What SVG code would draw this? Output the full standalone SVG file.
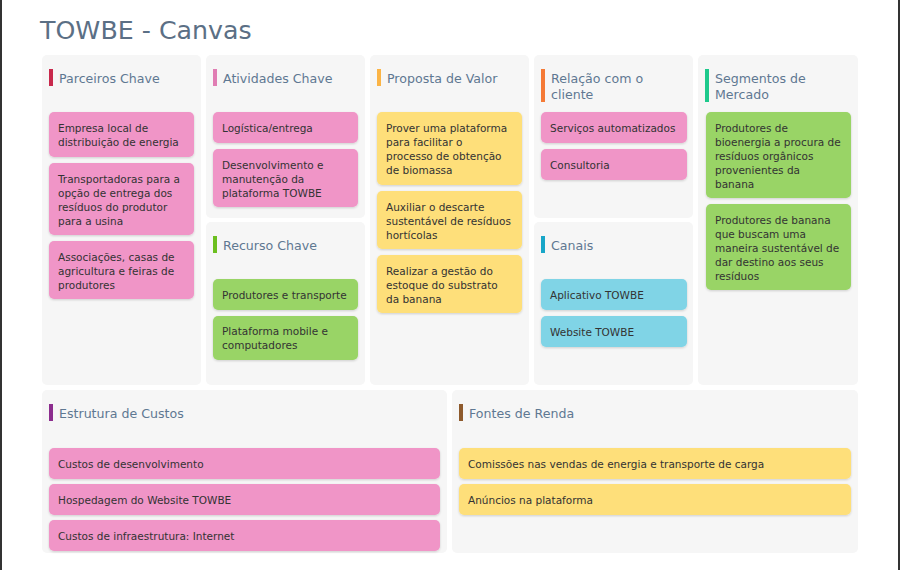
<svg xmlns="http://www.w3.org/2000/svg" width="900" height="570" viewBox="0 0 900 570">
<defs>
<style>
text{font-family:"DejaVu Sans","Liberation Sans",sans-serif}
.title{font-size:25.3px;fill:#5b6f85}
.panel{fill:#f6f6f6}
.hd{font-size:12.6px;fill:#5f7892}
.card{filter:url(#sh)}
.ct{font-size:10.5px;fill:#333333}
.pink{fill:#f095c7}
.yel{fill:#fedf7a}
.grn{fill:#99d466}
.blu{fill:#80d4e6}
</style>
<filter id="sh" x="-10%" y="-20%" width="120%" height="150%">
<feDropShadow dx="0" dy="1" stdDeviation="1.2" flood-color="#000" flood-opacity="0.16"/>
</filter>
</defs>
<rect x="0" y="0" width="900" height="570" fill="#ffffff"/>
<rect x="0" y="0" width="2" height="570" fill="#333333"/>
<rect x="898" y="0" width="2" height="570" fill="#333333"/>
<text class="title" x="40" y="39">TOWBE - Canvas</text>

<g id="parceiros">
<rect class="panel" x="42" y="55" width="159" height="330" rx="5"/>
<rect x="49" y="69" width="4" height="17" fill="#c8294c"/>
<text class="hd" x="59" y="83">Parceiros Chave</text>
<g id="p1"><rect class="card pink" x="49" y="112" width="145" height="45" rx="5"/><text class="ct" x="58" y="132">Empresa local de<tspan x="58" dy="14">distribuição de energia</tspan></text></g>
<g id="p2"><rect class="card pink" x="49" y="163" width="145" height="72" rx="5"/><text class="ct" x="58" y="182.5">Transportadoras para a<tspan x="58" dy="14">opção de entrega dos</tspan><tspan x="58" dy="14">resíduos do produtor</tspan><tspan x="58" dy="14">para a usina</tspan></text></g>
<g id="p3"><rect class="card pink" x="49" y="241" width="145" height="58" rx="5"/><text class="ct" x="58" y="260.5">Associações, casas de<tspan x="58" dy="14">agricultura e feiras de</tspan><tspan x="58" dy="14">produtores</tspan></text></g>
</g>

<g id="atividades">
<rect class="panel" x="206" y="55" width="159" height="163" rx="5"/>
<rect x="213" y="69" width="4" height="17" fill="#e07db3"/>
<text class="hd" x="223" y="83">Atividades Chave</text>
<g id="a1"><rect class="card pink" x="213" y="112" width="145" height="31" rx="5"/><text class="ct" x="222" y="132">Logística/entrega</text></g>
<g id="a2"><rect class="card pink" x="213" y="149" width="145" height="58" rx="5"/><text class="ct" x="222" y="168.5">Desenvolvimento e<tspan x="222" dy="14">manutenção da</tspan><tspan x="222" dy="14">plataforma TOWBE</tspan></text></g>
</g>

<g id="recurso">
<rect class="panel" x="206" y="222" width="159" height="163" rx="5"/>
<rect x="213" y="236" width="4" height="17" fill="#6cbf1f"/>
<text class="hd" x="223" y="250">Recurso Chave</text>
<g id="r1"><rect class="card grn" x="213" y="279" width="145" height="31" rx="5"/><text class="ct" x="222" y="298.5">Produtores e transporte</text></g>
<g id="r2"><rect class="card grn" x="213" y="316" width="145" height="44" rx="5"/><text class="ct" x="222" y="335">Plataforma mobile e<tspan x="222" dy="14">computadores</tspan></text></g>
</g>

<g id="proposta">
<rect class="panel" x="370" y="55" width="159" height="330" rx="5"/>
<rect x="377" y="69" width="4" height="17" fill="#fbb446"/>
<text class="hd" x="387" y="83">Proposta de Valor</text>
<g id="v1"><rect class="card yel" x="377" y="112" width="145" height="73" rx="5"/><text class="ct" x="386" y="132">Prover uma plataforma<tspan x="386" dy="14">para facilitar o</tspan><tspan x="386" dy="14">processo de obtenção</tspan><tspan x="386" dy="14">de biomassa</tspan></text></g>
<g id="v2"><rect class="card yel" x="377" y="191" width="145" height="58" rx="5"/><text class="ct" x="386" y="210.5">Auxiliar o descarte<tspan x="386" dy="14">sustentável de resíduos</tspan><tspan x="386" dy="14">hortícolas</tspan></text></g>
<g id="v3"><rect class="card yel" x="377" y="255" width="145" height="58" rx="5"/><text class="ct" x="386" y="274.5">Realizar a gestão do<tspan x="386" dy="14">estoque do substrato</tspan><tspan x="386" dy="14">da banana</tspan></text></g>
</g>

<g id="relacao">
<rect class="panel" x="534" y="55" width="159" height="163" rx="5"/>
<rect x="541" y="69" width="4" height="33" fill="#f57a36"/>
<text class="hd" x="551" y="83">Relação com o<tspan x="551" dy="16">cliente</tspan></text>
<g id="c1"><rect class="card pink" x="541" y="112" width="146" height="31" rx="5"/><text class="ct" x="550" y="132">Serviços automatizados</text></g>
<g id="c2"><rect class="card pink" x="541" y="149" width="146" height="31" rx="5"/><text class="ct" x="550" y="168.5">Consultoria</text></g>
</g>

<g id="canais">
<rect class="panel" x="534" y="222" width="159" height="163" rx="5"/>
<rect x="541" y="236" width="4" height="17" fill="#18a6c8"/>
<text class="hd" x="551" y="250">Canais</text>
<g id="k1"><rect class="card blu" x="541" y="279" width="146" height="31" rx="5"/><text class="ct" x="550" y="298.5">Aplicativo TOWBE</text></g>
<g id="k2"><rect class="card blu" x="541" y="316" width="146" height="31" rx="5"/><text class="ct" x="550" y="335.5">Website TOWBE</text></g>
</g>

<g id="segmentos">
<rect class="panel" x="698" y="55" width="160" height="330" rx="5"/>
<rect x="705" y="69" width="4" height="33" fill="#1dc98c"/>
<text class="hd" x="715" y="83">Segmentos de<tspan x="715" dy="16">Mercado</tspan></text>
<g id="s1"><rect class="card grn" x="706" y="112" width="145" height="86" rx="5"/><text class="ct" x="715" y="132">Produtores de<tspan x="715" dy="14">bioenergia a procura de</tspan><tspan x="715" dy="14">resíduos orgânicos</tspan><tspan x="715" dy="14">provenientes da</tspan><tspan x="715" dy="14">banana</tspan></text></g>
<g id="s2"><rect class="card grn" x="706" y="204" width="145" height="86" rx="5"/><text class="ct" x="715" y="224">Produtores de banana<tspan x="715" dy="14">que buscam uma</tspan><tspan x="715" dy="14">maneira sustentável de</tspan><tspan x="715" dy="14">dar destino aos seus</tspan><tspan x="715" dy="14">resíduos</tspan></text></g>
</g>

<g id="custos">
<rect class="panel" x="42" y="390" width="405" height="163" rx="5"/>
<rect x="49" y="404" width="4" height="17" fill="#8c2d8e"/>
<text class="hd" x="59" y="418">Estrutura de Custos</text>
<g id="e1"><rect class="card pink" x="49" y="448" width="391" height="31" rx="5"/><text class="ct" x="58" y="467.5">Custos de desenvolvimento</text></g>
<g id="e2"><rect class="card pink" x="49" y="484" width="391" height="31" rx="5"/><text class="ct" x="58" y="503.5">Hospedagem do Website TOWBE</text></g>
<g id="e3"><rect class="card pink" x="49" y="520" width="391" height="31" rx="5"/><text class="ct" x="58" y="539.5">Custos de infraestrutura: Internet</text></g>
</g>

<g id="renda">
<rect class="panel" x="452" y="390" width="406" height="163" rx="5"/>
<rect x="459" y="404" width="4" height="17" fill="#8e5a2c"/>
<text class="hd" x="469" y="418">Fontes de Renda</text>
<g id="f1"><rect class="card yel" x="459" y="448" width="392" height="31" rx="5"/><text class="ct" x="468" y="467.5">Comissões nas vendas de energia e transporte de carga</text></g>
<g id="f2"><rect class="card yel" x="459" y="484" width="392" height="31" rx="5"/><text class="ct" x="468" y="503.5">Anúncios na plataforma</text></g>
</g>
</svg>
